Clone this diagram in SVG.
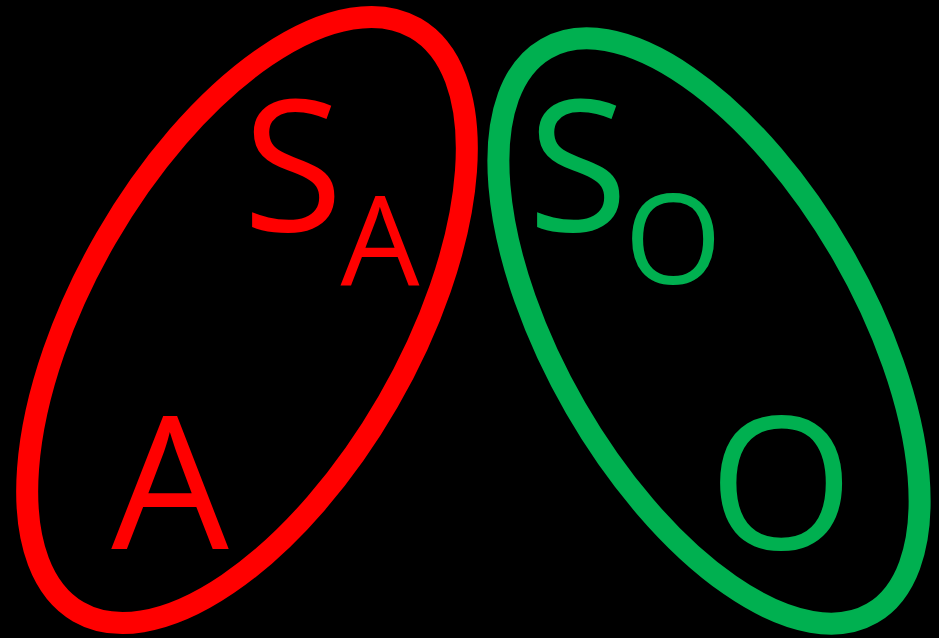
<svg xmlns="http://www.w3.org/2000/svg" width="939" height="638" viewBox="0 0 939 638">
<style>
.t{font-family:"Open Sans","Noto Sans","Liberation Sans",sans-serif;text-anchor:middle}
.r{fill:#FF0000}
.g{fill:#00B050}
.ring{fill:none;stroke-width:22}
</style>
<rect width="939" height="638" fill="#000"/>
<g id="red-set">
<ellipse class="ring" stroke="#FF0000" cx="247" cy="320" rx="337" ry="163" transform="rotate(-60 247 320)"/>
<text class="t r" x="293" y="231" font-size="183">S</text>
<text class="t r" x="380" y="285" font-size="125">A</text>
<text class="t r" x="170" y="549" font-size="186">A</text>
</g>
<g id="green-set">
<ellipse class="ring" stroke="#00B050" cx="709" cy="331" rx="326" ry="154" transform="rotate(60 709 331)"/>
<text class="t g" x="578" y="231" font-size="183">S</text>
<text class="t g" x="673" y="284" font-size="125">O</text>
<text class="t g" x="781" y="549" font-size="186">O</text>
</g>
</svg>
